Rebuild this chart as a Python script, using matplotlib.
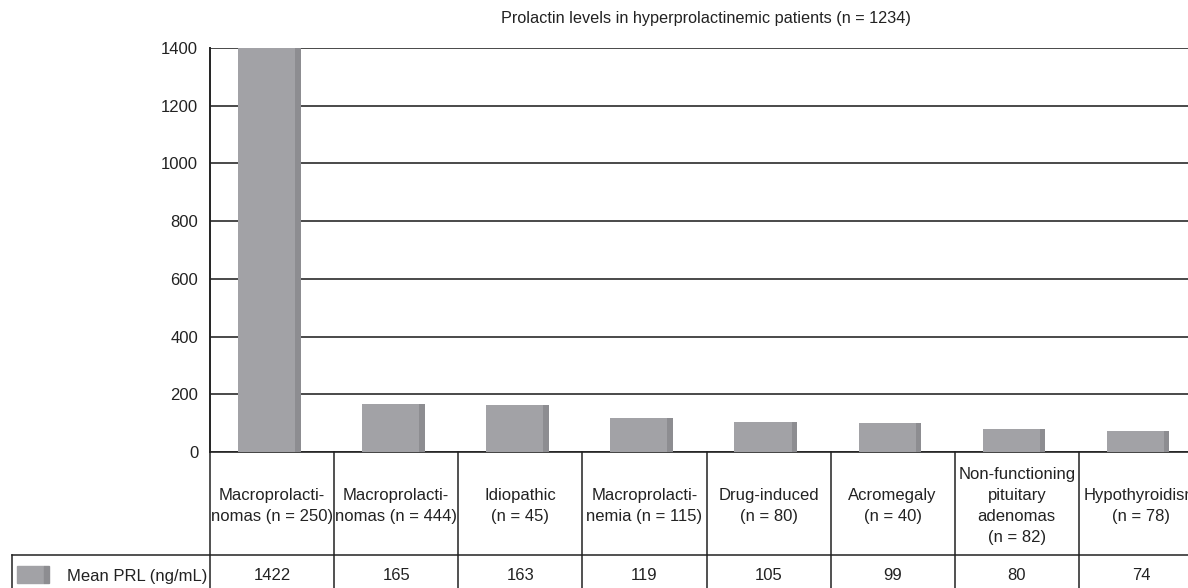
import matplotlib.pyplot as plt

plt.rcParams['font.family'] = ['Liberation Sans Narrow', 'Liberation Sans', 'DejaVu Sans']

groups = ["Macroprolacti-\nnomas (n = 250)", "Macroprolacti-\nnomas (n = 444)",
          "Idiopathic\n(n = 45)", "Macroprolacti-\nnemia (n = 115)",
          "Drug-induced\n(n = 80)", "Acromegaly\n(n = 40)",
          "Non-functioning\npituitary\nadenomas\n(n = 82)", "Hypothyroidism\n(n = 78)"]
mean_prl = [1422, 165, 163, 119, 105, 99, 80, 74]
series_name = "Mean PRL (ng/mL)"
title = "Prolactin levels in hyperprolactinemic patients (n = 1234)"

W, H = 1188, 588
fig = plt.figure(figsize=(W / 100, H / 100), dpi=100)

# axes in pixel terms
left, right, top, bottom = 210, 1203, 48, 452
ax = fig.add_axes([left / W, 1 - bottom / H, (right - left) / W, (bottom - top) / H])
axh = bottom - top
colw = (right - left) / len(groups)

front = '#a2a2a6'
side = '#8d8d91'
x = list(range(len(groups)))
bw = 0.46
sw = 0.045
ax.bar([i - 0.045 for i in x], mean_prl, width=bw, color=front, zorder=3)
ax.bar([i - 0.045 + bw / 2 + sw / 2 for i in x], mean_prl, width=sw, color=side, zorder=3)

ax.set_xlim(-0.5, len(groups) - 0.5)
ax.set_ylim(0, 1400)
ax.set_yticks(range(0, 1401, 200))
ax.yaxis.grid(True, color='#2a2a2a', linewidth=1.2)
ax.set_axisbelow(True)
ax.tick_params(axis='y', length=0, pad=8.5, labelsize=12, labelcolor='#222222')
ax.tick_params(axis='x', length=0, labelbottom=False)
for s in ['top', 'right']:
    ax.spines[s].set_visible(False)
ax.spines['left'].set_color('#222222')
ax.spines['left'].set_linewidth(1.4)
ax.spines['bottom'].set_color('#222222')
ax.spines['bottom'].set_linewidth(1.2)

# data table below the plot
tr = ax.get_xaxis_transform()
hdr = 555 - bottom          # header row height in px
yrow = -hdr / axh
ybot = -(H + 10 - bottom) / axh
lc = dict(color='#222222', linewidth=1.1, clip_on=False, transform=tr)
for i in range(len(groups) + 1):
    ax.plot([i - 0.5, i - 0.5], [0, ybot], **lc)
leg_x = -0.5 - (left - 12) / colw
ax.plot([leg_x, len(groups) - 0.5], [yrow, yrow], **lc)
ax.plot([leg_x, leg_x], [yrow, ybot], **lc)

for i, g in enumerate(groups):
    ax.text(i, -(506 - bottom) / axh, g, transform=tr, ha='center', va='center', fontsize=12,
            color='#222222', linespacing=1.5, clip_on=False)
    ax.text(i, -(576 - bottom) / axh, str(mean_prl[i]), transform=tr, ha='center',
            va='center', fontsize=12, color='#222222', clip_on=False)

# legend swatch and series name in the row-label cell
fig.patches.append(plt.Rectangle((17 / W, 1 - 583 / H), 27 / W, 17 / H,
                                 transform=fig.transFigure, color=front))
fig.patches.append(plt.Rectangle((44 / W, 1 - 583 / H), 5 / W, 17 / H,
                                 transform=fig.transFigure, color=side))
fig.text(67 / W, 1 - 576 / H, series_name, ha='left', va='center', fontsize=12, color='#222222')

fig.text(706 / W, 1 - 18 / H, title, ha='center', va='center', fontsize=11.7, color='#222222')

fig.savefig('out.png', dpi=100)
